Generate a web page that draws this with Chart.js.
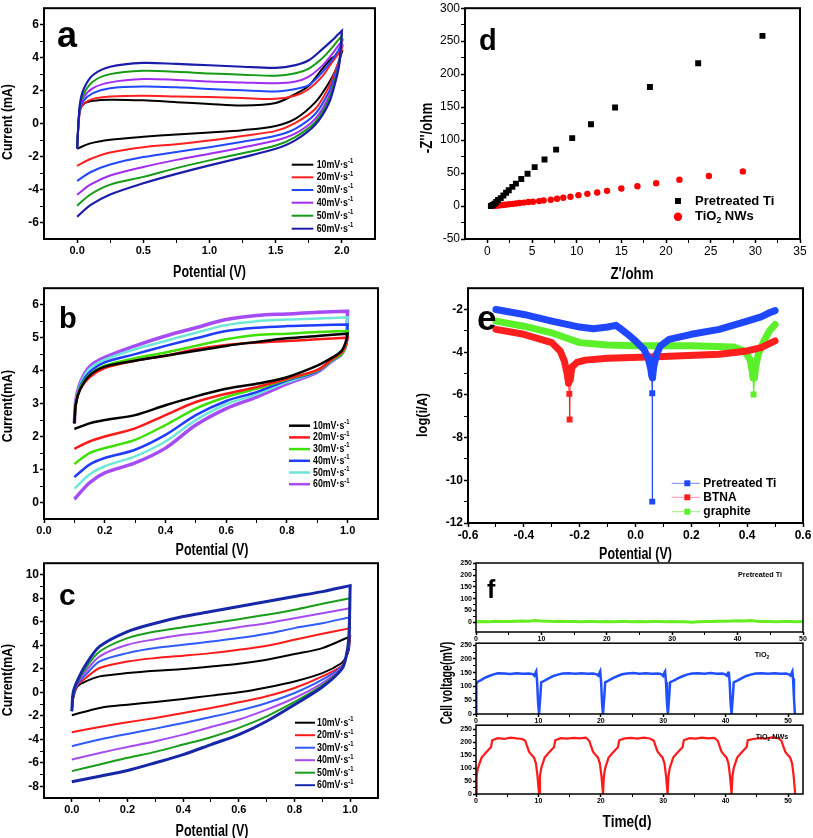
<!DOCTYPE html>
<html><head><meta charset="utf-8">
<script src="https://cdn.jsdelivr.net/npm/chart.js@4.4.0/dist/chart.umd.min.js"></script>
<style>
html,body{margin:0;padding:0;background:#fff;}
#wrap{position:relative;width:813px;height:838px;overflow:hidden;background:#fff;}
canvas{position:absolute;}
</style></head><body><div id="wrap">
<canvas id="ca" style="left:0;top:0" width="400" height="285"></canvas>
<canvas id="cb" style="left:0;top:280px" width="400" height="283"></canvas>
<canvas id="cc" style="left:0;top:555px" width="400" height="290"></canvas>
<canvas id="cd" style="left:410px;top:0" width="403" height="285"></canvas>
<canvas id="ce" style="left:410px;top:280px" width="403" height="283"></canvas>
<canvas id="cf1" style="left:410px;top:555px" width="403" height="95"></canvas>
<canvas id="cf2" style="left:410px;top:638px" width="403" height="88"></canvas>
<canvas id="cf3" style="left:410px;top:720px" width="403" height="118"></canvas>
</div>
<script>
// ================= DATA =================
const rateLabels = ['10','20','30','40','50','60'];
// Panel a (CV, 0-2 V)
const aXf = [0, 0.02, 0.05, 0.12, 0.25, 0.5, 0.75, 1.0, 1.25, 1.5, 1.65, 1.75, 1.85, 1.92, 1.97, 2.0];
const aXr = [2.0, 1.98, 1.95, 1.9, 1.8, 1.65, 1.5, 1.25, 1.0, 0.75, 0.5, 0.25, 0.1, 0.0];
const aUp10 = [-1.5, 0.8, 1.2, 1.38, 1.45, 1.41, 1.3, 1.19, 1.1, 1.25, 1.8, 2.3, 3.3, 3.95, 4.2, 4.35];
const aUp20 = [-1.5, 0.7, 1.2, 1.5, 1.65, 1.69, 1.65, 1.61, 1.55, 1.5, 1.7, 2.1, 2.85, 3.65, 4.2, 4.55];
const aUp30 = [-1.5, 0.8, 1.4, 1.85, 2.15, 2.25, 2.2, 2.1, 2.02, 1.95, 2.1, 2.33, 3.1, 3.8, 4.4, 4.85];
const aUp40 = [-1.5, 0.9, 1.6, 2.15, 2.5, 2.7, 2.65, 2.55, 2.5, 2.45, 2.55, 2.85, 3.5, 4.15, 4.7, 5.0];
const aUp50 = [-1.5, 1.0, 1.8, 2.55, 3.0, 3.2, 3.15, 3.04, 2.97, 2.9, 3.05, 3.34, 3.95, 4.55, 5.05, 5.33];
const aUp60 = [-1.5, 1.1, 2.1, 2.95, 3.45, 3.68, 3.62, 3.54, 3.45, 3.38, 3.55, 3.84, 4.5, 5.0, 5.4, 5.63];
const aLo10 = [4.35, 3.8, 3.2, 2.45, 1.3, 0.3, -0.14, -0.4, -0.54, -0.66, -0.8, -0.98, -1.2, -1.53];
const aLo20 = [4.55, 3.9, 3.2, 2.2, 0.9, 0.05, -0.44, -0.75, -1.03, -1.25, -1.43, -1.75, -2.15, -2.57];
const aLo30 = [4.85, 3.8, 3.0, 1.9, 0.6, -0.3, -0.74, -1.1, -1.43, -1.72, -2.03, -2.48, -2.95, -3.48];
const aLo40 = [5.0, 3.7, 2.8, 1.6, 0.3, -0.6, -1.03, -1.45, -1.83, -2.2, -2.63, -3.15, -3.7, -4.32];
const aLo50 = [5.33, 3.7, 2.7, 1.4, 0.1, -0.8, -1.33, -1.8, -2.23, -2.7, -3.23, -3.7, -4.3, -4.98];
const aLo60 = [5.63, 3.6, 2.5, 1.2, -0.05, -1.0, -1.53, -2.05, -2.53, -3.05, -3.62, -4.3, -4.95, -5.65];
const aXMajor = [0, 0.5, 1.0, 1.5, 2.0], aXMinor = [0.25, 0.75, 1.25, 1.75];
const aYMajor = [-6, -4, -2, 0, 2, 4, 6], aYMinor = [-5, -3, -1, 1, 3, 5];

// Panel b (CV, 0.1-1.0 V)
const bXf = [0.1, 0.105, 0.12, 0.15, 0.2, 0.3, 0.4, 0.5, 0.6, 0.7, 0.8, 0.9, 1.0];
const bXr = [1.0, 0.995, 0.98, 0.95, 0.9, 0.8, 0.7, 0.6, 0.5, 0.4, 0.3, 0.2, 0.15, 0.1];
const bUp10 = [2.4, 3.0, 3.45, 3.85, 4.12, 4.3, 4.45, 4.6, 4.75, 4.87, 4.98, 5.05, 5.12];
const bUp20 = [2.4, 3.0, 3.45, 3.8, 4.08, 4.3, 4.45, 4.65, 4.78, 4.85, 4.9, 4.95, 5.0];
const bUp30 = [2.4, 3.0, 3.5, 3.87, 4.15, 4.38, 4.55, 4.75, 4.95, 5.08, 5.12, 5.17, 5.2];
const bUp40 = [2.4, 3.0, 3.55, 3.95, 4.25, 4.5, 4.75, 4.98, 5.2, 5.3, 5.35, 5.38, 5.4];
const bUp50 = [2.4, 3.05, 3.6, 4.05, 4.33, 4.65, 4.9, 5.15, 5.38, 5.5, 5.55, 5.58, 5.62];
const bUp60 = [2.4, 3.1, 3.65, 4.12, 4.4, 4.75, 5.05, 5.3, 5.55, 5.67, 5.72, 5.77, 5.8];
const bLo10 = [5.12, 4.9, 4.6, 4.4, 4.15, 3.8, 3.6, 3.45, 3.22, 2.95, 2.65, 2.5, 2.4, 2.23];
const bLo20 = [5.0, 4.8, 4.55, 4.35, 4.02, 3.75, 3.5, 3.3, 3.05, 2.65, 2.25, 2.0, 1.85, 1.63];
const bLo30 = [5.2, 4.8, 4.5, 4.33, 4.0, 3.73, 3.45, 3.2, 2.85, 2.35, 1.9, 1.65, 1.5, 1.17];
const bLo40 = [5.4, 4.8, 4.5, 4.32, 3.98, 3.7, 3.35, 3.08, 2.65, 2.05, 1.6, 1.35, 1.15, 0.77];
const bLo50 = [5.62, 4.8, 4.5, 4.3, 3.97, 3.65, 3.28, 2.98, 2.5, 1.85, 1.4, 1.1, 0.85, 0.42];
const bLo60 = [5.8, 4.8, 4.5, 4.3, 3.95, 3.6, 3.2, 2.85, 2.35, 1.65, 1.2, 0.9, 0.6, 0.1];
const bXMajor = [0, 0.2, 0.4, 0.6, 0.8, 1.0], bXMinor = [0.1, 0.3, 0.5, 0.7, 0.9];
const bYMajor = [0, 1, 2, 3, 4, 5, 6], bYMinor = [0.5, 1.5, 2.5, 3.5, 4.5, 5.5];

// Panel c (CV, 0-1 V)
const cXf = [0, 0.005, 0.02, 0.05, 0.1, 0.2, 0.3, 0.4, 0.5, 0.6, 0.7, 0.8, 0.9, 1.0];
const cXr = [1.0, 0.995, 0.985, 0.97, 0.9, 0.8, 0.7, 0.6, 0.5, 0.4, 0.3, 0.2, 0.1, 0.0];
const cUp10 = [-1.6, -0.5, 0.5, 0.93, 1.36, 1.64, 1.84, 1.98, 2.2, 2.44, 2.78, 3.26, 3.77, 4.76];
const cUp20 = [-1.6, -0.4, 0.6, 1.22, 2.07, 2.63, 2.92, 3.12, 3.34, 3.63, 3.97, 4.48, 4.99, 5.47];
const cUp30 = [-1.6, -0.3, 0.7, 1.5, 2.63, 3.34, 3.77, 4.05, 4.33, 4.62, 4.99, 5.47, 5.89, 6.4];
const cUp40 = [-1.6, -0.2, 0.8, 1.78, 3.06, 4.05, 4.53, 4.9, 5.18, 5.55, 5.89, 6.32, 6.74, 7.17];
const cUp50 = [-1.6, -0.1, 0.9, 2.07, 3.48, 4.62, 5.18, 5.55, 5.89, 6.23, 6.6, 7.03, 7.54, 8.02];
const cUp60 = [-1.6, 0.0, 1.0, 2.35, 3.91, 5.18, 5.89, 6.46, 6.88, 7.31, 7.73, 8.16, 8.58, 9.09];
const cLo10 = [4.76, 3.6, 3.0, 2.5, 1.64, 0.93, 0.42, 0.0, -0.28, -0.57, -0.82, -1.05, -1.33, -1.95];
const cLo20 = [5.47, 3.8, 3.0, 2.27, 1.36, 0.37, -0.34, -0.85, -1.33, -1.76, -2.18, -2.55, -2.95, -3.4];
const cLo30 = [6.4, 4.0, 3.0, 2.2, 1.08, -0.06, -0.91, -1.56, -2.1, -2.61, -3.09, -3.54, -4.02, -4.59];
const cLo40 = [7.17, 4.2, 3.0, 2.12, 0.79, -0.48, -1.47, -2.32, -2.95, -3.6, -4.16, -4.65, -5.16, -5.72];
const cLo50 = [8.02, 4.4, 3.0, 2.04, 0.59, -0.82, -2.04, -3.03, -3.82, -4.45, -5.07, -5.58, -6.15, -6.71];
const cLo60 = [9.09, 4.6, 3.0, 1.98, 0.45, -1.05, -2.46, -3.6, -4.45, -5.3, -6.0, -6.66, -7.14, -7.62];
const cXMajor = [0, 0.2, 0.4, 0.6, 0.8, 1.0], cXMinor = [0.1, 0.3, 0.5, 0.7, 0.9];
const cYMajor = [-8, -6, -4, -2, 0, 2, 4, 6, 8, 10], cYMinor = [-7, -5, -3, -1, 1, 3, 5, 7, 9];

// Panel d (Nyquist)
const dTiX = [0.4, 0.6, 0.8, 1.0, 1.2, 1.5, 1.8, 2.1, 2.4, 2.8, 3.2, 3.8, 4.5, 5.3, 6.4, 7.7, 9.5, 11.6, 14.3, 18.2, 23.6, 30.8];
const dTiY = [0, 1.5, 3.5, 6, 9, 12, 16, 20, 24, 29, 34, 41, 49, 59, 70.5, 85.5, 103, 124, 149.5, 180.5, 216.5, 258];
const dNwX = [0.8, 1.1, 1.4, 1.7, 2.0, 2.4, 2.8, 3.2, 3.6, 4.1, 4.6, 5.1, 5.8, 6.3, 7.1, 7.8, 8.5, 9.3, 10.2, 11.2, 12.3, 13.4, 15.0, 16.8, 18.9, 21.5, 24.8, 28.6];
const dNwY = [0.2, 0.6, 1.0, 1.5, 2.0, 2.6, 3.2, 3.8, 4.5, 5.2, 6.0, 6.5, 7.5, 8.5, 9.5, 11, 12.5, 14, 16.5, 18.5, 20.5, 23, 26.5, 30, 34.5, 40, 45.5, 52.5];
const dXMajor = [0, 5, 10, 15, 20, 25, 30, 35], dXMinor = [2.5, 7.5, 12.5, 17.5, 22.5, 27.5, 32.5];
const dYMajor = [-50, 0, 50, 100, 150, 200, 250, 300], dYMinor = [-25, 25, 75, 125, 175, 225, 275];

// Panel e (Tafel)
const eTiX = [-0.5, -0.4, -0.3, -0.2, -0.15, -0.1, -0.07, -0.05, -0.02, 0.0, 0.03, 0.045, 0.055, 0.058, 0.06, 0.06, 0.061, 0.065, 0.075, 0.09, 0.12, 0.2, 0.3, 0.4, 0.45, 0.48, 0.5];
const eTiY = [-2.0, -2.23, -2.54, -2.82, -2.9, -2.82, -2.74, -2.93, -3.24, -3.47, -3.86, -4.25, -4.8, -5.1, -5.92, -11.0, -5.2, -4.7, -4.1, -3.7, -3.4, -3.16, -2.93, -2.54, -2.34, -2.15, -2.05];
const eBtX = [-0.5, -0.4, -0.3, -0.27, -0.255, -0.245, -0.24, -0.237, -0.236, -0.234, -0.228, -0.21, -0.18, -0.1, 0.1, 0.3, 0.4, 0.45, 0.5];
const eBtY = [-2.93, -3.16, -3.55, -3.94, -4.4, -5.0, -5.45, -5.95, -7.15, -5.3, -4.7, -4.48, -4.37, -4.28, -4.2, -4.09, -3.94, -3.78, -3.47];
const eGrX = [-0.5, -0.4, -0.3, -0.25, -0.2, -0.1, 0.0, 0.2, 0.35, 0.39, 0.41, 0.418, 0.421, 0.423, 0.426, 0.43, 0.44, 0.46, 0.48, 0.5];
const eGrY = [-2.54, -2.78, -3.09, -3.32, -3.55, -3.66, -3.7, -3.7, -3.75, -3.94, -4.33, -4.87, -5.2, -5.98, -5.2, -4.71, -4.09, -3.47, -3.0, -2.7];
const eXMajor = [-0.6, -0.4, -0.2, 0, 0.2, 0.4, 0.6], eXMinor = [-0.5, -0.3, -0.1, 0.1, 0.3, 0.5];
const eYMajor = [-12, -10, -8, -6, -4, -2], eYMinor = [-11, -9, -7, -5, -3];

// Panel f (cell voltage vs time)
const fTiX = [0,1,2,3,4,5,6,7,8,9,10,11,12,13,14,15,16,17,18,19,20,21,22,23,24,25,26,27,28,29,30,31,32,33,34,35,36,37,38,39,40,41,42,43,44,45,46,47,48,49,50];
const fTiY = [2,3,2,4,3,3,4,5,4,7,5,4,3,4,3,3,2,3,3,2,3,2,3,3,2,3,2,3,3,2,3,2,2,0,2,3,3,4,4,5,6,5,7,4,3,3,2,3,3,2,3];
const fOxX = [0,0.05,0.3,0.8,1.4,2.0,2.7,3.5,4.5,5.5,6.5,7.5,8.5,9.1,9.35,9.55,9.65,9.8,9.95,10.1,
  10.3,10.45,10.75,11.2,11.8,12.4,13.1,13.9,14.9,15.9,16.9,17.9,18.8,19.35,19.6,19.8,19.9,20.05,20.2,20.35,
  20.55,20.7,21.0,21.5,22.1,22.7,23.4,24.2,25.2,26.2,27.2,28.2,29.2,29.75,30.0,30.2,30.3,30.45,30.6,30.75,
  30.95,31.1,31.4,31.9,32.5,33.1,33.8,34.6,35.6,36.6,37.6,38.6,39.5,40.0,40.2,40.4,40.5,40.65,40.8,40.95,
  41.15,41.3,41.6,42.1,42.7,43.3,44.0,44.8,45.8,46.8,47.8,48.8,49.7,50.2,50.4,50.6,50.7,50.8,50.95,51.1];
const fOxY = [0,110,117,123,131,137,143,148,147,145,148,146,147,145,139,150,155,115,40,0,
  60,115,118,124,131,138,143,147,148,146,148,146,147,144,139,150,155,115,40,0,
  60,115,118,125,132,138,144,147,149,146,148,146,147,144,138,151,155,115,40,0,
  60,115,118,124,131,137,143,147,148,146,149,146,147,143,139,150,154,115,40,0,
  60,115,118,124,131,138,143,147,148,146,148,146,147,143,139,150,155,130,60,0];
const fNwX = [0,0.1,0.3,0.9,1.6,2.2,2.4,2.6,3.5,4.5,5.5,6.5,7.4,7.9,8.1,8.5,9.0,9.3,9.6,9.85,10.1,
  10.25,10.45,11.0,11.7,12.3,12.5,12.7,13.6,14.6,15.6,16.6,17.6,18.15,18.35,18.75,19.25,19.55,19.85,20.1,20.35,
  20.5,20.7,21.25,21.95,22.55,22.75,22.95,23.85,24.85,25.85,26.85,27.85,28.5,28.7,29.1,29.6,29.9,30.2,30.45,30.7,
  30.85,31.05,31.6,32.3,32.9,33.1,33.3,34.2,35.2,36.2,37.2,38.2,38.75,38.95,39.35,39.85,40.15,40.45,40.7,40.95,
  41.1,41.3,41.85,42.55,43.15,43.35,43.55,44.45,45.45,46.45,47.45,48.45,48.95,49.15,49.55,50.05,50.35,50.65,50.9,51.15];
const fNwY = [0,70,100,140,160,175,180,207,215,212,217,214,212,205,190,163,148,140,118,70,0,
  70,100,140,160,175,180,207,215,213,216,214,217,205,190,163,148,140,118,70,0,
  70,100,140,160,175,180,207,214,216,213,217,214,205,190,163,148,140,118,70,0,
  70,100,140,160,175,180,207,215,213,217,214,216,205,190,163,148,140,118,70,0,
  70,100,140,160,175,180,207,212,215,213,218,215,205,190,163,148,140,118,70,0];
const fXMajor = [0, 10, 20, 30, 40, 50], fXMinor = [5, 15, 25, 35, 45];
const fYMajor = [0, 50, 100, 150, 200, 250], fYMinor = [25, 75, 125, 175, 225];

// ================= RENDERING =================
const FONT = '"Liberation Sans", Arial, Helvetica, sans-serif';
Chart.defaults.font.family = FONT;
Chart.defaults.color = '#000';

function isIn(v, arr){ return arr.some(m => Math.abs(m - v) < 1e-9); }

function mkScale(o){
  const all = o.majors.concat(o.minors).sort((p,q)=>p-q);
  return {
    type:'linear', min:o.min, max:o.max,
    afterBuildTicks: s => { s.ticks = all.map(v => ({value:v})); },
    afterFit: s => { if (o.axis === 'x') s.height = o.fixed; else s.width = o.fixed; },
    ticks:{ autoSkip:false, maxRotation:0, minRotation:0, padding:o.tpad ?? 1, color:'#000',
      font:{size:o.size, weight:o.bold ? 'bold' : 'normal', family:FONT},
      callback: v => isIn(v, o.majors) ? o.fmt(v) : '' },
    grid:{ display:true, drawOnChartArea:false, drawTicks:true, tickLength:o.tl ?? 4, tickColor:'#000',
      tickWidth: c => (c.tick && isIn(c.tick.value, o.majors)) ? 1.5 : 1 },
    border:{display:false},
    title:{display:false}
  };
}

function drawRich(ctx, segs, size, sx){
  const fonts = segs.map(s => `bold ${(s.sup||s.sub) ? size*0.66 : size}px ${FONT}`);
  let w = 0;
  segs.forEach((s,i) => { ctx.font = fonts[i]; w += ctx.measureText(s.t).width; });
  return {w, draw(x0){
    let cx = x0;
    segs.forEach((s,i) => { ctx.font = fonts[i];
      const dy = s.sup ? -size*0.33 : (s.sub ? size*0.3 : 0);
      ctx.fillText(s.t, cx, dy); cx += ctx.measureText(s.t).width; });
  }};
}
function textAt(ctx, segs, x, y, size, sx, align, rot){
  ctx.save();
  ctx.translate(x, y);
  if (rot) ctx.rotate(-Math.PI/2);
  ctx.scale(sx || 1, 1);
  ctx.textBaseline = 'middle'; ctx.textAlign = 'left'; ctx.fillStyle = '#000';
  const r = drawRich(ctx, segs, size, sx);
  r.draw(align === 'center' ? -r.w/2 : 0);
  ctx.restore();
}
function marker(ctx, type, x, y, r, color){
  ctx.fillStyle = color;
  if (type === 'rect') { const s = r*Math.SQRT1_2; ctx.fillRect(x-s, y-s, 2*s, 2*s); }
  else if (type === 'circle') { ctx.beginPath(); ctx.arc(x, y, r, 0, Math.PI*2); ctx.fill(); }
}

const decor = {
  id:'decor',
  afterDraw(chart, args, o){
    const ctx = chart.ctx, a = chart.chartArea;
    ctx.save();
    ctx.strokeStyle = '#000'; ctx.lineWidth = o.frame || 2;
    ctx.strokeRect(a.left, a.top, a.right - a.left, a.bottom - a.top);
    if (o.letter) {
      ctx.fillStyle = '#000'; ctx.textBaseline = 'alphabetic'; ctx.textAlign = 'left';
      ctx.font = `bold ${o.letter.size}px ${FONT}`;
      ctx.fillText(o.letter.t, o.letter.x, o.letter.y);
    }
    (o.titles || []).forEach(t => textAt(ctx, t.segs, t.x, t.y, t.size, t.sx, 'center', t.rot));
    if (o.legend) {
      const L = o.legend;
      L.items.forEach((it, i) => {
        const y = L.ys[i];
        if (L.x1 != null) {
          ctx.strokeStyle = it.lineColor || it.color; ctx.lineWidth = L.lw || 2;
          ctx.beginPath(); ctx.moveTo(L.x1, y); ctx.lineTo(L.x2, y); ctx.stroke();
        }
        if (it.marker) marker(ctx, it.marker, L.mx, y, L.mr, it.color);
        textAt(ctx, it.segs, L.tx, y, L.size, L.sx, 'left', false);
      });
    }
    ctx.restore();
  }
};

function pts(xs, ys){ return xs.map((x,i) => ({x, y:ys[i]})); }
function cv(xf, xr, up, lo, color, w){
  return { data: pts(xf, up).concat(pts(xr, lo)), showLine:true, borderColor:color, borderWidth:w,
    pointRadius:0, tension:0.3, fill:false };
}
function make(id, datasets, xs, ys, pad, dec){
  return new Chart(document.getElementById(id), {
    type:'scatter', data:{datasets},
    options:{ responsive:false, maintainAspectRatio:false, animation:false, devicePixelRatio:1, events:[],
      layout:{padding:pad},
      plugins:{ legend:{display:false}, tooltip:{enabled:false}, decor:dec },
      scales:{x:xs, y:ys} },
    plugins:[decor]
  });
}
const rateSegs = rateLabels.map(r => [{t:r + 'mV\u00b7s'}, {t:'-1', sup:true}]);
const fmt1 = v => v.toFixed(1), fmt0 = v => String(Math.round(v));

// ---- a ----
const aCols = ['#000000', '#ff1f1f', '#2147ff', '#a12cf0', '#159b15', '#1c1caa'];
make('ca', [
  cv(aXf, aXr, aUp60, aLo60, aCols[5], 2.2), cv(aXf, aXr, aUp50, aLo50, aCols[4], 2),
  cv(aXf, aXr, aUp40, aLo40, aCols[3], 2), cv(aXf, aXr, aUp30, aLo30, aCols[2], 2),
  cv(aXf, aXr, aUp20, aLo20, aCols[1], 2), cv(aXf, aXr, aUp10, aLo10, aCols[0], 2)],
  mkScale({axis:'x', min:-0.25, max:2.25, majors:aXMajor, minors:aXMinor, fmt:fmt1, fixed:46, size:11, bold:true}),
  mkScale({axis:'y', min:-7, max:7, majors:aYMajor, minors:aYMinor, fmt:fmt0, fixed:44, size:12, bold:true}),
  {top:5, right:25, left:0, bottom:0},
  { frame:2, letter:{t:'a', x:57, y:47, size:36},
    titles:[{segs:[{t:'Potential (V)'}], x:209.5, y:273, size:16, sx:0.78},
            {segs:[{t:'Current (mA)'}], x:8, y:122, size:15, sx:0.82, rot:true}],
    legend:{x1:291.7, x2:313.3, tx:316.7, ys:[164.7,177.3,190,202.7,215.7,228.7], size:11, sx:0.8, lw:2,
      items: rateSegs.map((s,i) => ({segs:s, color:aCols[i]}))} });

// ---- b ----
const bCols = ['#000000', '#ff1a1a', '#3ee000', '#1f3cff', '#6ee8d6', '#a54cf5'];
make('cb', [
  cv(bXf, bXr, bUp10, bLo10, bCols[0], 2.5), cv(bXf, bXr, bUp20, bLo20, bCols[1], 2.5),
  cv(bXf, bXr, bUp30, bLo30, bCols[2], 2.5), cv(bXf, bXr, bUp40, bLo40, bCols[3], 2.5),
  cv(bXf, bXr, bUp50, bLo50, bCols[4], 2.5), cv(bXf, bXr, bUp60, bLo60, bCols[5], 3.5)],
  mkScale({axis:'x', min:0, max:1.1, majors:bXMajor, minors:bXMinor, fmt:fmt1, fixed:44, size:11, bold:true}),
  mkScale({axis:'y', min:-0.5, max:6.5, majors:bYMajor, minors:bYMinor, fmt:fmt0, fixed:44, size:12, bold:true}),
  {top:6, right:22, left:0, bottom:0},
  { frame:2, letter:{t:'b', x:59, y:48, size:29},
    titles:[{segs:[{t:'Potential (V)'}], x:212, y:271, size:16, sx:0.78},
            {segs:[{t:'Current(mA)'}], x:8, y:126, size:15, sx:0.82, rot:true}],
    legend:{x1:289, x2:310, tx:313, ys:[145.7,157.4,169.1,180.8,192.5,204.2], size:11, sx:0.8, lw:2.5,
      items: rateSegs.map((s,i) => ({segs:s, color:bCols[i]}))} });

// ---- c ----
const cCols = ['#000000', '#ff1a1a', '#2f5bff', '#a64cf0', '#1a9e1a', '#1628a8'];
make('cc', [
  cv(cXf, cXr, cUp60, cLo60, cCols[5], 3), cv(cXf, cXr, cUp50, cLo50, cCols[4], 2),
  cv(cXf, cXr, cUp40, cLo40, cCols[3], 2), cv(cXf, cXr, cUp30, cLo30, cCols[2], 2),
  cv(cXf, cXr, cUp20, cLo20, cCols[1], 2), cv(cXf, cXr, cUp10, cLo10, cCols[0], 2)],
  mkScale({axis:'x', min:-0.1, max:1.1, majors:cXMajor, minors:cXMinor, fmt:fmt1, fixed:47, size:11, bold:true}),
  mkScale({axis:'y', min:-9, max:11, majors:cYMajor, minors:cYMinor, fmt:fmt0, fixed:44, size:12, bold:true}),
  {top:8, right:22, left:0, bottom:0},
  { frame:2, letter:{t:'c', x:59, y:50, size:30},
    titles:[{segs:[{t:'Potential (V)'}], x:212, y:277, size:16, sx:0.78},
            {segs:[{t:'Current(mA)'}], x:8, y:125, size:15, sx:0.82, rot:true}],
    legend:{x1:295, x2:315, tx:317, ys:[167.7,180.2,192.7,205.2,217.7,230.2], size:11, sx:0.8, lw:2,
      items: rateSegs.map((s,i) => ({segs:s, color:cCols[i]}))} });

// ---- d ----
make('cd', [
  {data:pts(dTiX, dTiY), backgroundColor:'#000', borderWidth:0, pointStyle:'rect', pointRadius:4.2},
  {data:pts(dNwX, dNwY), backgroundColor:'#ff0000', borderWidth:0, pointStyle:'circle', pointRadius:3.2}],
  mkScale({axis:'x', min:-2.5, max:35, majors:dXMajor, minors:dXMinor, fmt:fmt0, fixed:46, size:12, bold:false}),
  mkScale({axis:'y', min:-50, max:300, majors:dYMajor, minors:dYMinor, fmt:fmt0, fixed:55, size:12, bold:false}),
  {top:5, right:13, left:0, bottom:0},
  { frame:2, letter:{t:'d', x:69, y:50, size:29},
    titles:[{segs:[{t:"Z'/ohm"}], x:222, y:275, size:16, sx:0.83},
            {segs:[{t:"-Z''/ohm"}], x:18, y:128, size:16, sx:0.83, rot:true}],
    legend:{mx:268, mr:4.2, tx:285, ys:[201, 216.7], size:13, sx:1,
      items:[{segs:[{t:'Pretreated Ti'}], color:'#000', marker:'rect'},
             {segs:[{t:'TiO'},{t:'2', sub:true},{t:' NWs'}], color:'#ff0000', marker:'circle'}]} });

// ---- e ----
const THIN = -5.5;
function tafel(xs, ys, color){
  return { data:pts(xs, ys), showLine:true, borderColor:color, backgroundColor:color, borderWidth:7, tension:0,
    borderJoinStyle:'round', borderCapStyle:'round',
    segment:{ borderWidth: c => (c.p0.parsed.y < THIN || c.p1.parsed.y < THIN) ? 1 : 7 },
    pointStyle:'rect', pointBorderWidth:0,
    pointRadius: c => (c.raw && c.raw.y < -5.8) ? 4.2 : 0 };
}
make('ce', [tafel(eTiX, eTiY, '#1f47ff'), tafel(eBtX, eBtY, '#ff1f1f'), tafel(eGrX, eGrY, '#5cf02a')],
  mkScale({axis:'x', min:-0.6, max:0.6, majors:eXMajor, minors:eXMinor, fmt:fmt1, fixed:40, size:12, bold:true}),
  mkScale({axis:'y', min:-12, max:-1, majors:eYMajor, minors:eYMinor, fmt:fmt0, fixed:58, size:12, bold:true}),
  {top:7, right:10, left:0, bottom:0},
  { frame:2, letter:{t:'e', x:67, y:50, size:35},
    titles:[{segs:[{t:'Potential (V)'}], x:225.5, y:275, size:16, sx:0.78},
            {segs:[{t:'log(i/A)'}], x:13, y:135, size:15, sx:0.85, rot:true}],
    legend:{x1:261.7, x2:290, mx:277.3, mr:4.2, tx:293.3, ys:[203.3, 217.3, 231.7], size:12, sx:1, lw:1,
      items:[{segs:[{t:'Pretreated Ti'}], color:'#1f47ff', lineColor:'#6f8cff', marker:'rect'},
             {segs:[{t:'BTNA'}], color:'#ff1f1f', lineColor:'#ff8fb0', marker:'rect'},
             {segs:[{t:'graphite'}], color:'#5cf02a', lineColor:'#9ff080', marker:'rect'}]} });

// ---- f ----
function fline(xs, ys, color, w){
  return {data:pts(xs, ys), showLine:true, borderColor:color, borderWidth:w, pointRadius:0, tension:0};
}
make('cf1', [fline(fTiX, fTiY, '#66ee22', 3)],
  mkScale({axis:'x', min:0, max:50, majors:fXMajor, minors:fXMinor, fmt:fmt0, fixed:18, size:7, bold:true, tl:3, tpad:0}),
  mkScale({axis:'y', min:-42, max:252, majors:fYMajor, minors:fYMinor, fmt:fmt0, fixed:66, size:7, bold:true, tl:3, tpad:1}),
  {top:8, right:10, left:0, bottom:0},
  { frame:1.5, letter:{t:'f', x:77, y:43, size:25},
    titles:[{segs:[{t:'Pretreated Ti'}], x:350, y:20, size:8, sx:0.9}] });
make('cf2', [fline(fOxX, fOxY, '#1f4fff', 2.5)],
  mkScale({axis:'x', min:0, max:52.4, majors:fXMajor, minors:fXMinor, fmt:fmt0, fixed:12, size:7, bold:true, tl:3, tpad:0}),
  mkScale({axis:'y', min:0, max:257, majors:fYMajor, minors:fYMinor, fmt:fmt0, fixed:66, size:7, bold:true, tl:3, tpad:1}),
  {top:5, right:10, left:0, bottom:0},
  { frame:1.5,
    titles:[{segs:[{t:'TiO'},{t:'2', sub:true}], x:352, y:17, size:8, sx:0.9},
            {segs:[{t:'Cell voltage(mV)'}], x:38, y:45, size:16, sx:0.66, rot:true}] });
make('cf3', [fline(fNwX, fNwY, '#ff1a1a', 2.2)],
  mkScale({axis:'x', min:0, max:52.4, majors:fXMajor, minors:fXMinor, fmt:fmt0, fixed:44, size:7, bold:true, tl:3, tpad:0}),
  mkScale({axis:'y', min:0, max:265, majors:fYMajor, minors:fYMinor, fmt:fmt0, fixed:66, size:7, bold:true, tl:3, tpad:1}),
  {top:5, right:10, left:0, bottom:0},
  { frame:1.5,
    titles:[{segs:[{t:'TiO'},{t:'2', sub:true},{t:' NWs'}], x:362, y:17, size:8, sx:0.9},
            {segs:[{t:'Time(d)'}], x:217, y:103, size:16, sx:0.85}] });
</script></body></html>
